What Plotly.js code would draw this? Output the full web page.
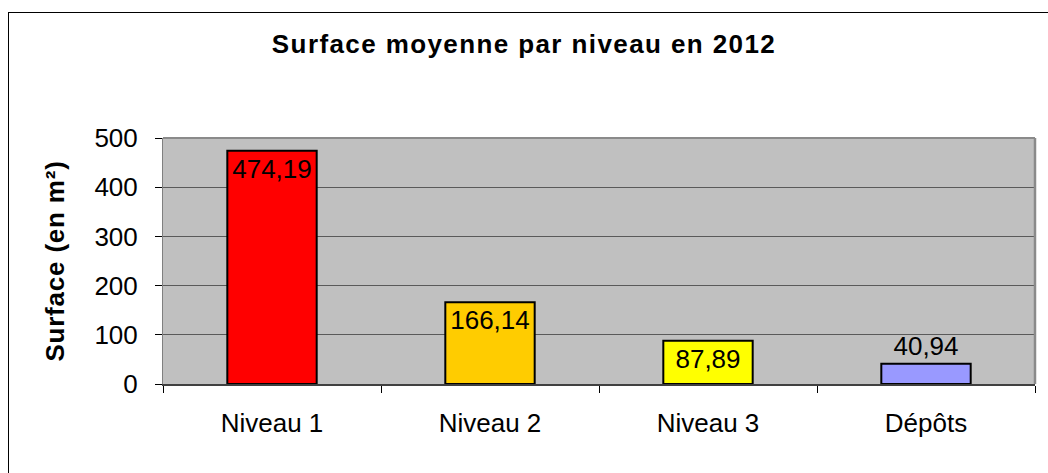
<!DOCTYPE html>
<html>
<head>
<meta charset="utf-8">
<script src="https://cdn.plot.ly/plotly-3.0.1.min.js"></script>
<style>
  html, body { margin: 0; padding: 0; background: #fff; }
  #wrap { position: relative; width: 1048px; height: 473px; overflow: hidden; }
  #chart { position: absolute; left: 0; top: 0; width: 1048px; height: 473px; }
  #frame { position: absolute; left: 8px; top: 12px; width: 1100px; height: 500px;
           border: 1.5px solid #000; pointer-events: none; }
  #chart .gtitle { letter-spacing: 1.4px; }
  #chart .ytitle { letter-spacing: 0.8px; }
</style>
</head>
<body>
<div id="wrap">
  <div id="chart"></div>
  <div id="frame"></div>
</div>
<script>
const categories = ["Niveau 1", "Niveau 2", "Niveau 3", "Dépôts"];
const surfaces = [474.19, 166.14, 87.89, 40.94];
const barColors = ["#FF0000", "#FFCC00", "#FFFF00", "#9999FF"];
const labelPositions = ["inside", "inside", "inside", "outside"];
const yTicks = [0, 100, 200, 300, 400, 500];

const trace = {
  type: "bar",
  x: categories,
  y: surfaces,
  marker: { color: barColors, line: { color: "#000", width: 2 } },
  texttemplate: "%{y:.2f}",
  textposition: labelPositions,
  insidetextanchor: "end",
  constraintext: "none",
  textfont: { family: "Arial, 'Liberation Sans', sans-serif", size: 26, color: "#000" },
  cliponaxis: false,
  hoverinfo: "skip"
};

const layout = {
  width: 1048,
  height: 473,
  separators: ", ",
  margin: { l: 163, r: 13, t: 138, b: 88.5, pad: 0 },
  paper_bgcolor: "#fff",
  plot_bgcolor: "#C0C0C0",
  showlegend: false,
  bargap: 0.59,
  font: { family: "Arial, 'Liberation Sans', sans-serif", color: "#000" },
  title: {
    text: "<b>Surface moyenne par niveau en 2012</b>",
    font: { size: 26, color: "#000" },
    xref: "container", x: 0.5, xanchor: "center",
    yref: "container", y: 1 - 44 / 473, yanchor: "middle"
  },
  xaxis: {
    type: "category",
    showline: true, linecolor: "#404040", linewidth: 2,
    ticks: "outside", tickson: "boundaries", ticklen: 7, tickcolor: "#000", tickwidth: 1,
    ticklabelstandoff: 15,
    tickfont: { size: 26, color: "#000" },
    showgrid: false, zeroline: false, fixedrange: true
  },
  yaxis: {
    range: [0, 500],
    tickvals: yTicks,
    showline: true, linecolor: "#808080", linewidth: 1,
    ticks: "outside", ticklen: 7, tickcolor: "#000", tickwidth: 1,
    ticklabelstandoff: 12,
    tickfont: { size: 26, color: "#000" },
    showgrid: true, gridcolor: "#5a5a5a", gridwidth: 1,
    zeroline: false, fixedrange: true,
    title: { text: "<b>Surface (en m²)</b>", font: { size: 26, color: "#000" }, standoff: 22 }
  },
  shapes: [
    { type: "line", xref: "paper", yref: "paper", x0: 0, x1: 1, y0: 1, y1: 1,
      line: { color: "#8a8a8a", width: 2 } },
    { type: "line", xref: "paper", yref: "paper", x0: 1, x1: 1, y0: 0, y1: 1,
      line: { color: "#8a8a8a", width: 2.5 } }
  ]
};

Plotly.newPlot("chart", [trace], layout, { staticPlot: true, displayModeBar: false });
</script>
</body>
</html>
